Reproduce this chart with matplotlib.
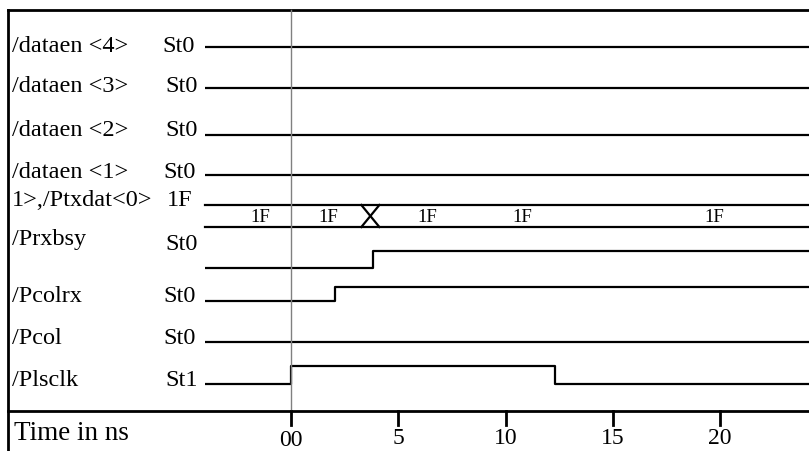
import matplotlib.pyplot as plt

plt.rcParams['font.family'] = ['Liberation Serif', 'DejaVu Serif']

# signal names and the value shown next to them
names = ["/dataen <4>", "/dataen <3>", "/dataen <2>", "/dataen <1>",
         "1>,/Ptxdat<0>", "/Prxbsy", "/Pcolrx", "/Pcol", "/Plsclk"]
values = ["St0", "St0", "St0", "St0", "1F", "St0", "St0", "St0", "St1"]

# single-bit waveforms: (edge times in ns, level after each edge)
t_start = -4.0
t_end = 24.2
wave_times = {
    "/dataen <4>": [t_start],
    "/dataen <3>": [t_start],
    "/dataen <2>": [t_start],
    "/dataen <1>": [t_start],
    "/Prxbsy": [t_start, 3.8],
    "/Pcolrx": [t_start, 2.05],
    "/Pcol": [t_start],
    "/Plsclk": [t_start, 0.0, 12.3],
}
wave_levels = {
    "/dataen <4>": [0],
    "/dataen <3>": [0],
    "/dataen <2>": [0],
    "/dataen <1>": [0],
    "/Prxbsy": [0, 1],
    "/Pcolrx": [0, 1],
    "/Pcol": [0],
    "/Plsclk": [0, 1, 0],
}

# bus signal: value changes and labels
bus_changes = [3.7]
bus_label_times = [-1.45, 1.75, 6.35, 10.8, 19.75]
bus_labels = ["1F", "1F", "1F", "1F", "1F"]

ticks = [0, 5, 10, 15, 20]
tick_labels = ["00", "5", "10", "15", "20"]

W, H = 809, 451
x0_px = 291.0
px_per_ns = 21.45

fig = plt.figure(figsize=(W / 100, H / 100), dpi=100)
ax = fig.add_axes([0, 0, 1, 1])
ax.set_xlim(-x0_px / px_per_ns, (W - x0_px) / px_per_ns)
ax.set_ylim(H, 0)
ax.axis('off')

def px(x):
    return (x - x0_px) / px_per_ns

# row layout: y of low line, y of high line, y of label text
low_y = {"/dataen <4>": 47, "/dataen <3>": 88, "/dataen <2>": 135, "/dataen <1>": 175,
         "/Prxbsy": 268, "/Pcolrx": 301, "/Pcol": 342, "/Plsclk": 384}
high_y = {"/Prxbsy": 251, "/Pcolrx": 287, "/Plsclk": 366}
name_y = [46, 86, 130, 172, 200, 240, 297, 339, 380]
val_y = [46, 86, 130, 172, 200, 244, 297, 339, 380]
val_x = [162, 165, 165, 163, 167, 165, 163, 163, 165]

lw = 1.6
for name in wave_times:
    ts = wave_times[name] + [t_end]
    lv = wave_levels[name]
    ys = [high_y.get(name, low_y[name]) if l else low_y[name] for l in lv]
    xs_step, ys_step = [], []
    for i, y in enumerate(ys):
        xs_step += [ts[i], ts[i + 1]]
        ys_step += [y, y]
    ax.plot(xs_step, ys_step, color='black', lw=lw, solid_capstyle='butt')

# bus
bus_top, bus_bot = 205, 227
ax.plot([t_start, t_end], [bus_top, bus_top], color='black', lw=lw)
ax.plot([t_start, t_end], [bus_bot, bus_bot], color='black', lw=lw)
for tc in bus_changes:
    ax.plot([tc - 0.42, tc + 0.42], [bus_top, bus_bot], color='black', lw=lw)
    ax.plot([tc - 0.42, tc + 0.42], [bus_bot, bus_top], color='black', lw=lw)
for t, lab in zip(bus_label_times, bus_labels):
    ax.text(t, 217, lab, fontsize=13.5, ha='center', va='center')

# labels
for n, v, ny, vy, vx in zip(names, values, name_y, val_y, val_x):
    ax.text(px(12), ny, n, fontsize=17.5, ha='left', va='center')
    ax.text(px(vx), vy, v, fontsize=17.5, ha='left', va='center')

# frame
ax.plot([px(8), px(W + 5)], [10, 10], color='black', lw=2)
ax.plot([px(8), px(8)], [10, H + 5], color='black', lw=2)
ax.plot([px(8), px(W + 5)], [411, 411], color='black', lw=2)
ax.plot([0, 0], [10, 411], color='#808080', lw=1)

for t, lab in zip(ticks, tick_labels):
    ax.plot([t, t], [411, 425], color='black', lw=2)
    ax.text(t, 440 if lab == "00" else 438, lab, fontsize=17, ha='center', va='center')
ax.text(px(14), 433, "Time in ns", fontsize=19.5, ha='left', va='center')

fig.savefig("out.png", dpi=100)
